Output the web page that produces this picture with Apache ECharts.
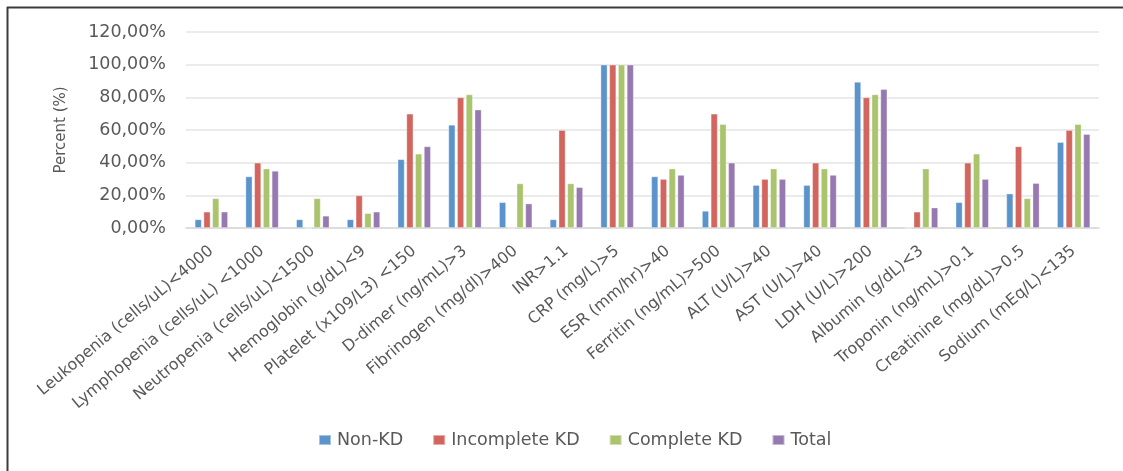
<!DOCTYPE html>
<html>
<head>
<meta charset="utf-8">
<script src="https://cdn.jsdelivr.net/npm/echarts@6/dist/echarts.min.js"></script>
<style>
  html, body { margin: 0; padding: 0; background: #fff; }
  #chart { width: 1123px; height: 471px; }
</style>
</head>
<body>
<div id="chart"></div>
<script>
// categories (x axis)
const categories = [
  'Leukopenia (cells/uL)<4000', 'Lymphopenia (cells/uL) <1000', 'Neutropenia (cells/uL)<1500',
  'Hemoglobin (g/dL)<9', 'Platelet (x109/L3) <150', 'D-dimer (ng/mL)>3', 'Fibrinogen (mg/dl)>400',
  'INR>1.1', 'CRP (mg/L)>5', 'ESR (mm/hr)>40', 'Ferritin (ng/mL)>500', 'ALT (U/L)>40',
  'AST (U/L)>40', 'LDH (U/L)>200', 'Albumin (g/dL)<3', 'Troponin (ng/mL)>0.1',
  'Creatinine (mg/dL)>0.5', 'Sodium (mEq/L)<135'
];
const seriesNames = ['Non-KD', 'Incomplete KD', 'Complete KD', 'Total'];

// percent values
const nonKD      = [5.3, 31.6, 5.3, 5.3, 42.1, 63.2, 15.8, 5.3, 100, 31.6, 10.5, 26.3, 26.3, 89.5, 0, 15.8, 21.1, 52.6];
const incomplete = [10, 40, 0, 20, 70, 80, 0, 60, 100, 30, 70, 30, 40, 80, 10, 40, 50, 60];
const complete   = [18.2, 36.4, 18.2, 9.1, 45.5, 81.8, 27.3, 27.3, 100, 36.4, 63.6, 36.4, 36.4, 81.8, 36.4, 45.5, 18.2, 63.6];
const total      = [10, 35, 7.5, 10, 50, 72.5, 15, 25, 100, 32.5, 40, 30, 32.5, 85, 12.5, 30, 27.5, 57.5];

// y axis ticks
const yMin = 0, yMax = 120, yStep = 20;

const colors = ['#5b94cb', '#d3655f', '#a9c46c', '#9579b0'];
const textColor = '#595959';
const font = 'DejaVu Sans';

const chart = echarts.init(document.getElementById('chart'));

const series = [nonKD, incomplete, complete, total].map((vals, i) => ({
  name: seriesNames[i],
  type: 'bar',
  data: vals,
  barWidth: 7,
  barGap: '25%',
  itemStyle: {
    color: colors[i],
    borderColor: 'rgba(255,255,255,0.45)',
    borderWidth: 0.8
  }
}));

chart.setOption({
  animation: false,
  color: colors,
  textStyle: { fontFamily: font },
  grid: {
    left: 186, right: 24, top: 32, bottom: 243,
    containLabel: false,
    outerBoundsMode: 'none'
  },
  legend: {
    data: seriesNames,
    left: 313,
    top: 426,
    icon: 'rect',
    itemWidth: 12,
    itemHeight: 10,
    itemGap: 29,
    textStyle: { color: textColor, fontSize: 17.5, fontFamily: font, padding: [0, 0, 0, 1] }
  },
  xAxis: {
    type: 'category',
    data: categories,
    axisTick: { show: false },
    axisLine: { lineStyle: { color: '#d9d9d9', width: 1.5 } },
    axisLabel: {
      interval: 0,
      rotate: 40,
      color: textColor,
      fontSize: 16,
      fontFamily: font,
      margin: 21
    }
  },
  yAxis: {
    type: 'value',
    min: yMin,
    max: yMax,
    interval: yStep,
    name: 'Percent (%)',
    nameLocation: 'middle',
    nameRotate: 90,
    nameGap: 117,
    nameTextStyle: { color: textColor, fontSize: 15, fontFamily: font },
    axisLine: { show: false },
    axisTick: { show: false },
    axisLabel: {
      color: textColor,
      fontSize: 17.5,
      fontFamily: font,
      margin: 20,
      formatter: v => v + ',00%'
    },
    splitLine: { lineStyle: { color: '#e4e4e4', width: 1.5 } }
  },
  graphic: [
    { type: 'line', shape: { x1: 7, y1: 7.5, x2: 1123, y2: 7.5 }, style: { stroke: '#3c3c3c', lineWidth: 2 } },
    { type: 'line', shape: { x1: 7.5, y1: 7, x2: 7.5, y2: 471 }, style: { stroke: '#3c3c3c', lineWidth: 2 } }
  ],
  series: series
});
</script>
</body>
</html>
